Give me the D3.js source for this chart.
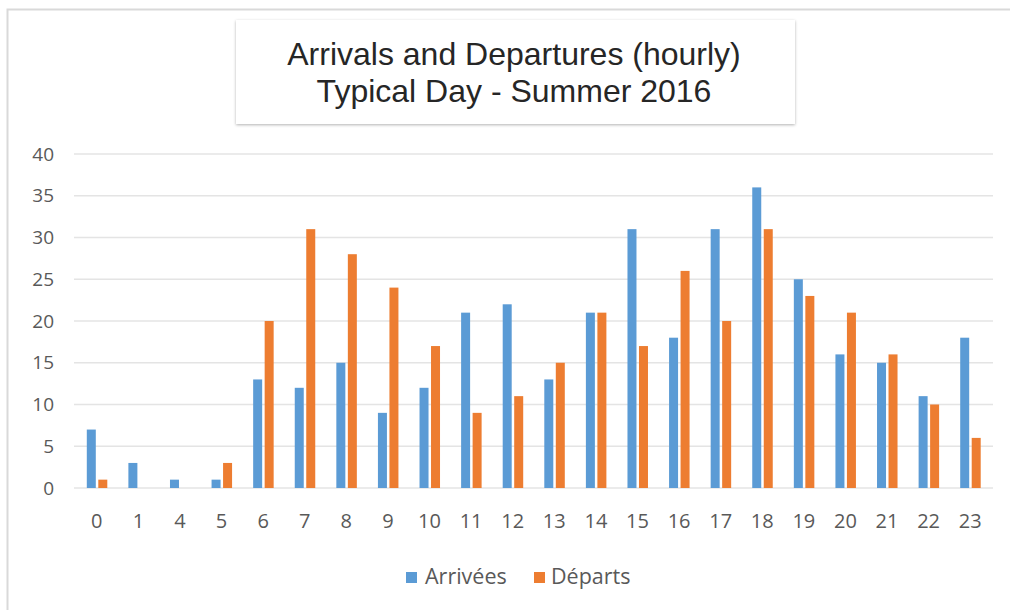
<!DOCTYPE html>
<html><head><meta charset="utf-8">
<script src="https://cdn.jsdelivr.net/npm/d3@7"></script>
<style>body{margin:0;background:#fff}svg{display:block}</style>
</head><body>
<svg id="c" width="1010" height="610"></svg>
<script>
const hours = ["0","1","4","5","6","7","8","9","10","11","12","13","14","15","16","17","18","19","20","21","22","23"];
const arrivees = [7,3,1,1,13,12,15,9,12,21,22,13,21,31,18,31,36,25,16,15,11,18];
const departs  = [1,0,0,3,20,31,28,24,17,9,11,15,21,17,26,20,31,23,21,16,10,6];
const yTicks = [0,5,10,15,20,25,30,35,40];
const seriesNames = ["Arrivées","Départs"];
const colors = ["#5b9bd5","#ed7d31"];

const svg = d3.select("#c");
const font = "'Open Sans', 'Liberation Sans', sans-serif";

// outer frame
svg.append("path").attr("d","M7.5,610 V9.5 H1010").attr("fill","none").attr("stroke","#d9d9d9").attr("stroke-width",2);

const x = d3.scaleBand().domain(hours).range([76,991]);
const y = d3.scaleLinear().domain([0,40]).range([488,154]);

// gridlines
svg.append("g").selectAll("line").data(yTicks).join("line")
  .attr("x1",74).attr("x2",993).attr("y1",d=>y(d)).attr("y2",d=>y(d))
  .attr("stroke","#e4e4e4").attr("stroke-width",1.5);

// y axis
const ya = svg.append("g").attr("transform","translate(54,0)")
  .call(d3.axisLeft(y).tickValues(yTicks).tickSize(0).tickPadding(0));
ya.select(".domain").remove();
ya.selectAll("text").attr("font-family",font).attr("font-size",19).attr("fill","#595959");

// x axis
const xa = svg.append("g").attr("transform","translate(0,528)")
  .call(d3.axisBottom(x).tickSize(0).tickPadding(0));
xa.select(".domain").remove();
xa.selectAll("text").attr("font-family",font).attr("font-size",20).attr("fill","#595959").attr("dy","0");

// bars
const bw = 9;
const groups = [arrivees, departs];
groups.forEach((vals,si)=>{
  svg.append("g").selectAll("rect").data(vals).join("rect")
    .attr("x",(d,i)=>x(hours[i]) + x.bandwidth()/2 + (si===0 ? -10 : 1.5))
    .attr("width",bw)
    .attr("y",d=>y(d))
    .attr("height",d=>y(0)-y(d))
    .attr("fill",colors[si]);
});

// title box with shadow
const defs = svg.append("defs");
const f = defs.append("filter").attr("id","sh").attr("x","-10%").attr("y","-20%").attr("width","120%").attr("height","140%");
f.append("feDropShadow").attr("dx",0).attr("dy",1).attr("stdDeviation",1.5).attr("flood-color","#000").attr("flood-opacity",0.3);
svg.append("rect").attr("x",236).attr("y",20).attr("width",559).attr("height",104)
  .attr("fill","#fff").attr("filter","url(#sh)");
const tt = svg.append("text").attr("text-anchor","middle").attr("font-family","'Liberation Sans', Arial, sans-serif")
  .attr("font-size",32).attr("fill","#262626");
tt.append("tspan").attr("x",514).attr("y",65).text("Arrivals and Departures (hourly)");
tt.append("tspan").attr("x",514).attr("y",102).text("Typical Day - Summer 2016");

// legend
const lg = svg.append("g");
const lx = [406,534];
const tx = [425,551];
seriesNames.forEach((n,i)=>{
  lg.append("rect").attr("x",lx[i]).attr("y",572).attr("width",11).attr("height",11).attr("fill",colors[i]);
  lg.append("text").attr("x",tx[i]).attr("y",584).attr("font-family",font).attr("font-size",21.5)
    .attr("fill","#595959").text(n);
});
</script>
</body></html>
